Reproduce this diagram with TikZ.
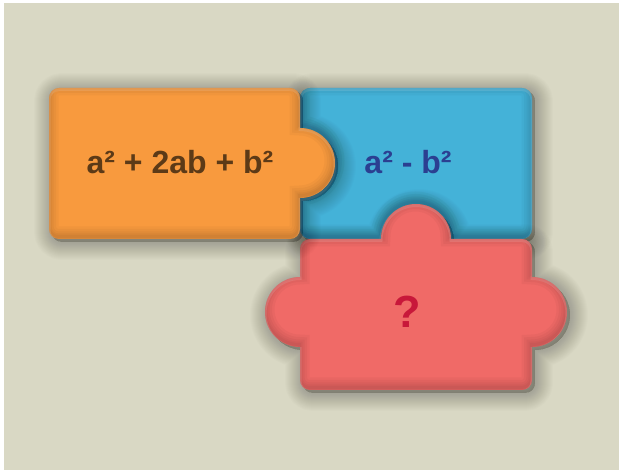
\documentclass[tikz,border=0pt]{standalone}
\usepackage{fontspec}
\setmainfont{Liberation Sans}

\definecolor{bgbeige}{HTML}{D9D8C4}
\definecolor{pcorange}{HTML}{F89A3E}
\definecolor{pcblue}{HTML}{44B2D8}
\definecolor{pcred}{HTML}{F06A67}
\definecolor{txtbrown}{HTML}{5C3A17}
\definecolor{txtblue}{HTML}{2B3F91}
\definecolor{txtred}{HTML}{C8183A}

% outlines of the three pieces (1 unit = 1pt, y upwards)
\newcommand{\orangeshape}{(49,244) -- (49,375) arc(180:90:10) -- (290,385) arc(90:0:10)
  -- (300,345) arc(90:-90:35) -- (300,244) arc(0:-90:10) -- (59,234) arc(270:180:10) -- cycle}
\newcommand{\blueshape}{(300,244) -- (300,275) arc(-90:90:35) -- (300,375) arc(180:90:10)
  -- (522,385) arc(90:0:10) -- (532,244) arc(0:-90:10) -- (451,234) arc(0:180:35)
  -- (310,234) arc(270:180:10) -- cycle}
\newcommand{\redshape}{(300,93) -- (300,126) arc(-90:-270:35) -- (300,224) arc(180:90:10)
  -- (381,234) arc(180:0:35) -- (522,234) arc(90:0:10) -- (532,196) arc(90:-90:35)
  -- (532,93) arc(0:-90:10) -- (310,83) arc(270:180:10) -- cycle}
% soft shadow below and right of a piece
\newcommand{\softshadow}[1]{%
  \begin{scope}[shift={(3,-3)}]
    \foreach \w in {2,4,...,36}
      \filldraw[black, opacity=0.012, line width=\w pt, line join=round] #1;
  \end{scope}}
% darker band along the inside, strongest at the bottom
\newcommand{\bevel}[1]{%
  \begin{scope}
    \clip #1;
    \begin{scope}[shift={(-0.5,2.5)}]
      \foreach \w in {3,6,10,15,20}
        \draw[line width=\w pt, black, opacity=0.03] #1;
    \end{scope}
    \begin{scope}[shift={(0,-1.5)}]
      \draw[line width=3pt, white, opacity=0.12] #1;
    \end{scope}
  \end{scope}}

\begin{document}
\begin{tikzpicture}[x=1pt,y=1pt,
  label/.style={anchor=base, font=\bfseries\fontsize{32}{38}\selectfont}]
\useasboundingbox (0,0) rectangle (620,473);
\fill[white] (0,0) rectangle (620,473);
\fill[bgbeige] (4,3) rectangle (619,470);

\softshadow{\blueshape}
\fill[pcblue] \blueshape;
\bevel{\blueshape}
\softshadow{\redshape}
\fill[pcred] \redshape;
\bevel{\redshape}
\softshadow{\orangeshape}
\fill[pcorange] \orangeshape;
\bevel{\orangeshape}

\node[label, text=txtbrown] (square) at (180,299) {a² + 2ab + b²};
\node[label, text=txtblue] (difference) at (408,299) {a² - b²};
\node[label, text=txtred, font=\bfseries\fontsize{45}{54}\selectfont] (unknown) at (407,145) {?};
\end{tikzpicture}
\end{document}
